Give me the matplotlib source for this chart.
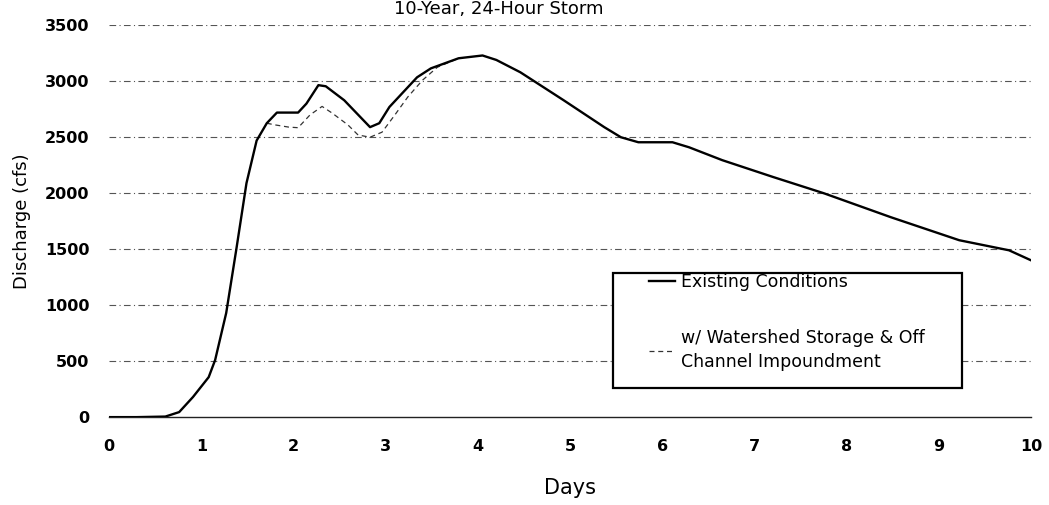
import matplotlib
matplotlib.use("Agg")
import matplotlib.pyplot as plt
from matplotlib.patches import Rectangle

plt.rcParams['font.family'] = ['DejaVu Sans']

# Existing Conditions
days_existing = [0.0, 0.3, 0.61, 0.76, 0.91, 1.08, 1.15, 1.27, 1.38, 1.49, 1.60, 1.71,
                 1.82, 2.05, 2.14, 2.27, 2.35, 2.55, 2.83, 2.93, 3.04, 3.34, 3.49,
                 3.79, 4.05, 4.20, 4.46, 4.93, 5.37, 5.55, 5.74, 6.11, 6.29, 6.65,
                 7.20, 7.75, 8.48, 9.22, 9.76, 10.0]
q_existing = [0, 0, 5, 45, 180, 357, 510, 930, 1500, 2090, 2470, 2625,
              2720, 2720, 2800, 2965, 2955, 2830, 2590, 2625, 2770, 3035, 3115,
              3205, 3230, 3190, 3080, 2830, 2590, 2500, 2455, 2455, 2410, 2295,
              2145, 2000, 1785, 1580, 1490, 1400]

# w/ Watershed Storage & Off Channel Impoundment (deviating segment)
days_storage = [1.71, 1.80, 1.95, 2.05, 2.18, 2.31, 2.42, 2.59, 2.70, 2.83, 2.96,
                3.10, 3.24, 3.40, 3.56, 3.79]
q_storage = [2625, 2610, 2590, 2585, 2700, 2775, 2715, 2610, 2520, 2500, 2545,
             2700, 2860, 3010, 3125, 3205]

yticks = [0, 500, 1000, 1500, 2000, 2500, 3000, 3500]
xticks = list(range(0, 11))

fig = plt.figure(figsize=(10.49, 5.05), dpi=100)
ax = fig.add_axes([0.104, 0.174, 0.879, 0.776])

for y in yticks:
    if y == 0:
        ax.axhline(y, color='#222222', lw=1.0, zorder=0, clip_on=False)
    else:
        ax.axhline(y, color='#555555', lw=0.8, ls=(0, (6, 3, 1, 3)), zorder=0)

ax.plot(days_existing, q_existing, color='black', lw=1.7, label='Existing Conditions', zorder=3)
ax.plot(days_storage, q_storage, color='#333333', lw=0.9, ls=(0, (4, 3)),
        label='w/ Watershed Storage & Off\nChannel Impoundment', zorder=2)

ax.set_xlim(0, 10)
ax.set_ylim(0, 3500)
ax.set_xticks(xticks)
ax.set_yticks(yticks)
for s in ax.spines.values():
    s.set_visible(False)
ax.tick_params(length=0, labelsize=11.5)
ax.tick_params(axis='y', pad=14)
ax.tick_params(axis='x', pad=16)
for lab in ax.get_xticklabels() + ax.get_yticklabels():
    lab.set_fontweight('bold')

ax.set_xlabel('Days', fontsize=15, labelpad=17)
ax.set_ylabel('Discharge (cfs)', fontsize=13, labelpad=10)

fig.text(0.475, 1.0, '10-Year, 24-Hour Storm', ha='center', va='top', fontsize=13)

# legend frame
ax.add_patch(Rectangle((0.547, 0.074), 0.378, 0.293, transform=ax.transAxes,
                       facecolor='white', edgecolor='black', lw=1.6, zorder=4,
                       clip_on=False))
leg = ax.legend(loc='upper left', bbox_to_anchor=(0.585, 0.367), frameon=False,
                fontsize=12.5, handlelength=1.5, handletextpad=0.35, labelspacing=2.15,
                borderpad=0, borderaxespad=0)
for t in leg.get_texts():
    t.set_linespacing(1.45)
leg.set_zorder(5)

fig.savefig('out.png', dpi=100)
